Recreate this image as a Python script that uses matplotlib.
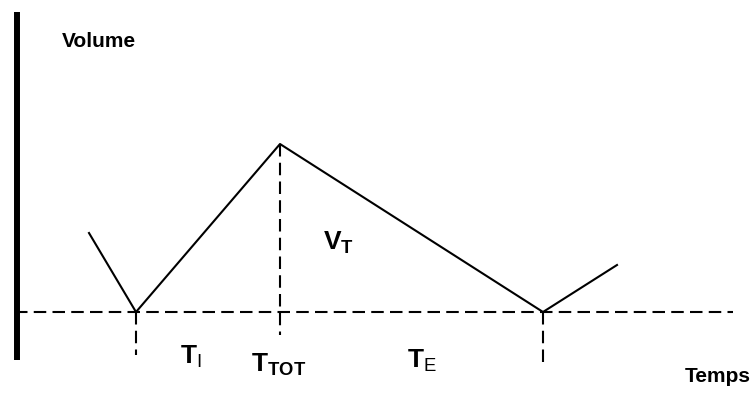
import matplotlib
matplotlib.use("Agg")
import matplotlib.pyplot as plt

matplotlib.rcParams["font.family"] = "Liberation Sans"
matplotlib.rcParams["mathtext.fontset"] = "custom"
matplotlib.rcParams["mathtext.rm"] = "Liberation Sans"
matplotlib.rcParams["mathtext.bf"] = "Liberation Sans:bold"

# breathing cycle: time vs volume (arbitrary units)
time = [72, 119, 263, 526, 600]
volume = [79, 0, 168, 0, 47]
# reference marks: start of inspiration, end of inspiration, end of expiration
mark_t = [119, 263, 526]
mark_top = [0, 168, 0]
mark_bottom = [-43, -23, -50]

fig = plt.figure(figsize=(7.52, 4.05), dpi=100)
ax = fig.add_axes([0, 0, 1, 1])
ax.set_xlim(-17, 735)
ax.set_ylim(-93, 312)
ax.axis("off")

dash = (0, (6, 3))
ax.plot([0, 0], [-48, 300], color="black", lw=4.3, solid_capstyle="butt")
ax.plot([-2, 716], [0, 0], color="black", lw=1.5, linestyle=dash)
for t, a, b in zip(mark_t, mark_top, mark_bottom):
    ax.plot([t, t], [a, b], color="black", lw=1.5, linestyle=dash)
ax.plot(time, volume, color="black", lw=1.5)

ax.text(45, 265, "Volume", fontsize=15, fontweight="bold")
ax.text(668, -70, "Temps", fontsize=15, fontweight="bold")
ax.text(306, 62, r"$\mathbf{V}_{\mathbf{T}}$", fontsize=19)
ax.text(163, -51, r"$\mathbf{T}_{\mathrm{I}}$", fontsize=19)
ax.text(234, -59, r"$\mathbf{T}_{\mathbf{TOT}}$", fontsize=19)
ax.text(390, -55, r"$\mathbf{T}_{\mathrm{E}}$", fontsize=19)

fig.savefig("out.png", dpi=100)
